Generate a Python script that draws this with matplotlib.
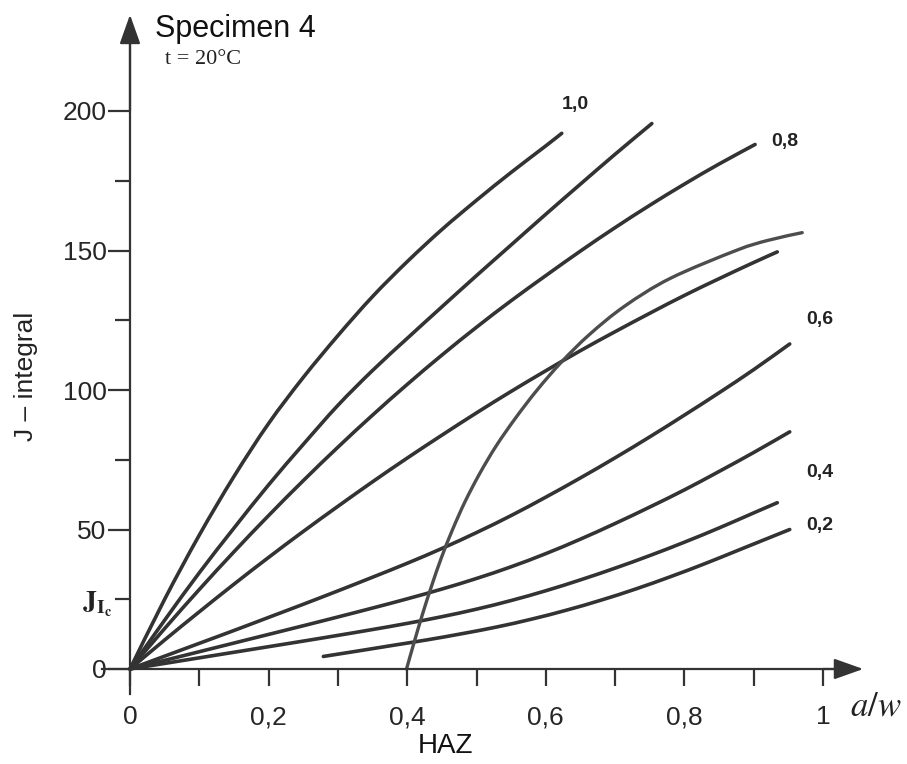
import matplotlib
matplotlib.use("Agg")
import numpy as np
import matplotlib.pyplot as plt
from matplotlib.path import Path
from matplotlib.patches import PathPatch
from matplotlib.ticker import FixedLocator, NullFormatter

plt.rcParams['mathtext.fontset'] = 'stix'

# ---- data ----
xA = [0, 0.05, 0.10, 0.15, 0.20, 0.25, 0.30, 0.35, 0.40, 0.45, 0.50, 0.55, 0.60, 0.623]
yA = [0, 25.0, 48.0, 69.0, 88.0, 104.5, 119.5, 133.5, 146.0, 157.5, 168.0, 178.0, 187.5, 192]

xB = [0, 0.05, 0.10, 0.15, 0.20, 0.25, 0.30, 0.35, 0.40, 0.45, 0.50, 0.55, 0.60, 0.65, 0.70, 0.753]
yB = [0, 17.5, 34.5, 50.5, 66.0, 80.5, 94.5, 107.0, 118.5, 129.8, 141.0, 152.0, 163.0, 173.8, 184.5, 195.5]

xC = [0, 0.05, 0.10, 0.15, 0.20, 0.25, 0.30, 0.35, 0.40, 0.45, 0.50, 0.55, 0.60, 0.65, 0.70, 0.75, 0.80, 0.85, 0.902]
yC = [0, 14.5, 28.5, 42.0, 55.0, 67.5, 79.5, 91.0, 102.0, 112.5, 122.5, 132.0, 141.0, 149.8, 158.2, 166.2, 173.8, 181.0, 188.0]

xD = [0, 0.05, 0.10, 0.15, 0.20, 0.25, 0.30, 0.35, 0.40, 0.45, 0.50, 0.55, 0.60, 0.65, 0.70, 0.75, 0.80, 0.85, 0.90, 0.934]
yD = [0, 10.4, 20.5, 30.4, 40.0, 49.3, 58.3, 67.1, 75.6, 83.8, 91.8, 99.5, 106.9, 114.1, 120.9, 127.5, 133.9, 139.9, 145.7, 149.5]

xE = [0, 0.05, 0.10, 0.15, 0.20, 0.25, 0.30, 0.35, 0.40, 0.45, 0.50, 0.55, 0.60, 0.65, 0.70, 0.75, 0.80, 0.85, 0.90, 0.952]
yE = [0, 4.6, 9.2, 13.8, 18.5, 23.2, 28.0, 32.9, 37.9, 43.2, 48.9, 55.0, 61.6, 68.5, 75.7, 83.2, 91.0, 99.0, 107.3, 116.5]

xF = [0, 0.05, 0.10, 0.15, 0.20, 0.25, 0.30, 0.35, 0.40, 0.45, 0.50, 0.55, 0.60, 0.65, 0.70, 0.75, 0.80, 0.85, 0.90, 0.952]
yF = [0, 3.1, 6.2, 9.3, 12.4, 15.5, 18.65, 21.85, 25.15, 28.65, 32.45, 36.65, 41.35, 46.55, 52.15, 58.05, 64.2, 70.8, 77.6, 85]

xG = [0, 0.05, 0.10, 0.15, 0.20, 0.25, 0.30, 0.35, 0.40, 0.45, 0.50, 0.55, 0.60, 0.65, 0.70, 0.75, 0.80, 0.85, 0.90, 0.934]
yG = [0, 2.0, 4.0, 6.0, 8.0, 10.0, 12.05, 14.15, 16.35, 18.75, 21.45, 24.55, 28.05, 31.95, 36.15, 40.65, 45.45, 50.55, 55.95, 59.6]

xH = [0.279, 0.33, 0.38, 0.43, 0.48, 0.53, 0.58, 0.63, 0.68, 0.73, 0.78, 0.83, 0.88, 0.952]
yH = [4.5, 6.5, 8.5, 10.5, 12.7, 15.1, 17.9, 21.1, 24.7, 28.7, 33.1, 37.8, 42.8, 50.0]

xHAZ = [0.399, 0.4105, 0.4225, 0.4355, 0.4495, 0.4655, 0.4835, 0.5045, 0.5285, 0.5565,
        0.5875, 0.6225, 0.6635, 0.7135, 0.7795, 0.8745, 0.920, 0.970]
yHAZ = [0, 10, 20, 30, 40, 50, 60, 70, 80, 90,
        100, 110, 120, 130, 140, 150, 153.6, 156.4]

curve_labels = ['1,0', '0,8', '0,6', '0,4', '0,2']
label_x = [0.642, 0.945, 0.996, 0.996, 0.996]
label_y = [202.5, 189.0, 125.4, 70.6, 51.3]

x_major = [0, 0.2, 0.4, 0.6, 0.8, 1.0]
x_major_labels = ['0', '0,2', '0,4', '0,6', '0,8', '1']
x_minor = [0.1, 0.3, 0.5, 0.7, 0.9]
y_major = [0, 50, 100, 150, 200]
y_major_labels = ['0', '50', '100', '150', '200']
y_minor = [25, 75, 125, 175]


def smooth_path(xs, ys):
    """Catmull-Rom curve through the points, drawn as cubic Bezier segments."""
    p = np.column_stack([xs, ys]).astype(float)
    n = len(p)
    verts = [p[0]]
    codes = [Path.MOVETO]
    for i in range(n - 1):
        p0 = p[i - 1] if i > 0 else p[i]
        p1, p2 = p[i], p[i + 1]
        p3 = p[i + 2] if i + 2 < n else p[i + 1]
        verts += [p1 + (p2 - p0) / 6.0, p2 - (p3 - p1) / 6.0, p2]
        codes += [Path.CURVE4] * 3
    return Path(np.array(verts), codes)


# ---- figure ----
W, H = 907, 764
fig = plt.figure(figsize=(W / 100, H / 100), dpi=100)
fig.patch.set_facecolor('white')

px_x0, px_x1 = 130, 823      # pixel of x=0 and x=1
px_y0, px_per_y = 669, 2.79  # pixel of y=0, pixels per unit
ax_l, ax_r = 60, 907
ax_t, ax_b = 5, 740
xlim = ((ax_l - px_x0) / (px_x1 - px_x0), (ax_r - px_x0) / (px_x1 - px_x0))
ylim = ((px_y0 - ax_b) / px_per_y, (px_y0 - ax_t) / px_per_y)
ax = fig.add_axes([ax_l / W, 1 - ax_b / H, (ax_r - ax_l) / W, (ax_b - ax_t) / H])
ax.set_xlim(*xlim)
ax.set_ylim(*ylim)
ax.patch.set_alpha(0)

axc = '#333333'
for s in ['top', 'right']:
    ax.spines[s].set_visible(False)
ax.spines['left'].set_position(('data', 0))
ax.spines['bottom'].set_position(('data', 0))
ax.spines['left'].set_bounds(-9, 230)
ax.spines['bottom'].set_bounds(-0.04, 1.05)
for s in ['left', 'bottom']:
    ax.spines[s].set_linewidth(1.6)
    ax.spines[s].set_color(axc)

arrow = dict(arrowstyle='-|>,head_length=0.9,head_width=0.32', lw=1.6, color=axc,
             shrinkA=0, shrinkB=0, mutation_scale=20)
ax.annotate('', xy=(0, 234.5), xytext=(0, 200), arrowprops=arrow, annotation_clip=False)
ax.annotate('', xy=(1.058, 0), xytext=(1.0, 0), arrowprops=arrow, annotation_clip=False)

tickfont = 'Liberation Sans'
ax.xaxis.set_major_locator(FixedLocator(x_major))
ax.xaxis.set_minor_locator(FixedLocator(x_minor))
ax.set_xticklabels(x_major_labels, fontsize=19, family=tickfont, color='#262626')
ax.xaxis.set_minor_formatter(NullFormatter())
ax.tick_params(axis='x', which='both', direction='out', length=12, width=1.6,
               color=axc, pad=14)
ax.yaxis.set_major_locator(FixedLocator(y_major))
ax.yaxis.set_minor_locator(FixedLocator(y_minor))
ax.set_yticklabels(y_major_labels, fontsize=19, family=tickfont, color='#262626')
ax.yaxis.set_minor_formatter(NullFormatter())
ax.tick_params(axis='y', which='major', direction='out', length=16, width=1.6, color=axc, pad=1)
ax.tick_params(axis='y', which='minor', direction='out', length=11, width=1.6, color=axc)

lc = '#333333'
for xs, ys in [(xA, yA), (xB, yB), (xC, yC), (xD, yD), (xE, yE), (xF, yF), (xG, yG), (xH, yH)]:
    ax.add_patch(PathPatch(smooth_path(xs, ys), facecolor='none', edgecolor=lc, lw=2.6,
                           capstyle='round', joinstyle='round'))
ax.add_patch(PathPatch(smooth_path(xHAZ, yHAZ), facecolor='none', edgecolor='#4d4d4d', lw=2.4,
                       capstyle='round', joinstyle='round'))

for t, x, y in zip(curve_labels, label_x, label_y):
    ax.text(x, y, t, fontsize=14, fontweight='bold', family=tickfont,
            ha='center', va='center', color='#222222')

# J_Ic label at y = 25
ax.text(-0.026, 23, r'$\mathbf{J}_{\mathbf{I_c}}$', fontsize=20, ha='right', va='center',
        color='#222222')

# titles and axis labels
fig.text(155 / W, 1 - 37 / H, 'Specimen 4', fontsize=22, family=tickfont,
         ha='left', va='baseline', color='#111111')
fig.text(165 / W, 1 - 64 / H, 't = 20°C', fontsize=16, family='Liberation Serif',
         ha='left', va='baseline', color='#222222')
fig.text(26 / W, 1 - 376 / H, 'J – integral', fontsize=19, family=tickfont,
         rotation=90, ha='center', va='center', color='#222222')
fig.text(446 / W, 1 - 746 / H, 'HAZ', fontsize=20, family=tickfont,
         ha='center', va='center', color='#111111')
fig.text(876 / W, 1 - 705 / H, r'$a/w$', fontsize=25, ha='center', va='center',
         color='#222222')

fig.savefig('out.png', dpi=100, facecolor='white')
